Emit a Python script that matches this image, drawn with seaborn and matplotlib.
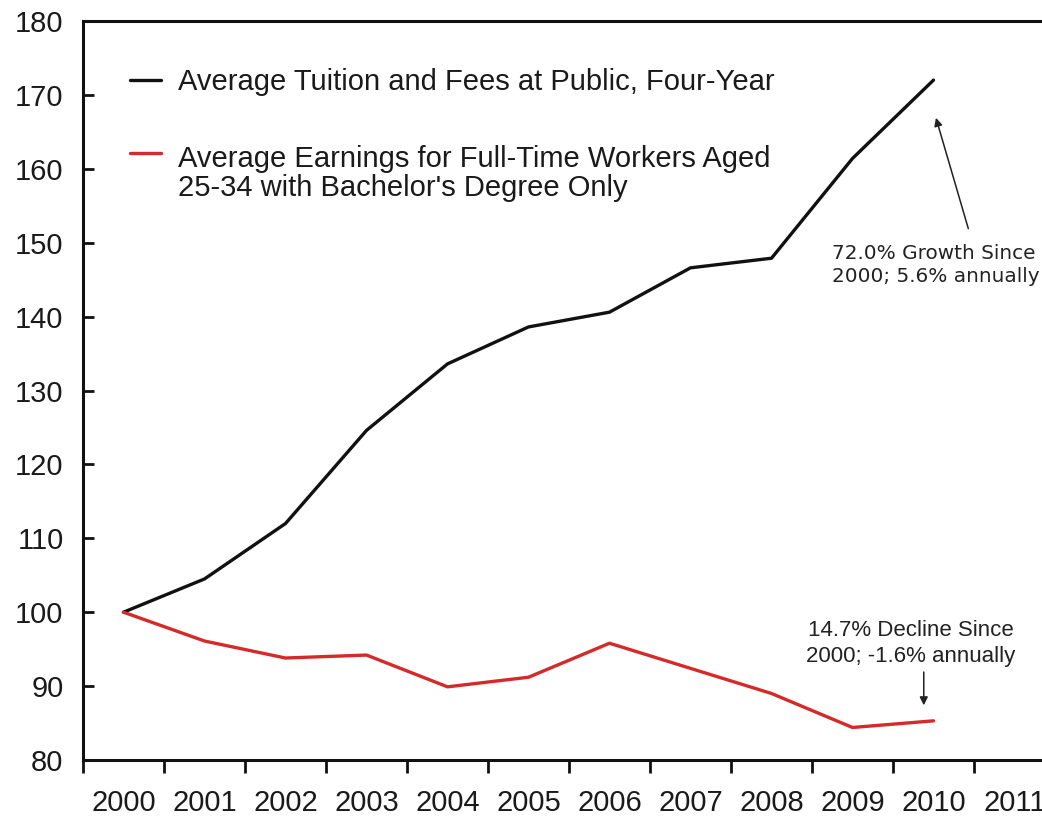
import matplotlib
matplotlib.use("Agg")
import matplotlib.pyplot as plt
from matplotlib.legend_handler import HandlerLine2D
import seaborn as sns
import pandas as pd
import numpy as np

years = [2000, 2001, 2002, 2003, 2004, 2005, 2006, 2007, 2008, 2009, 2010]
tuition = [100, 104.5, 112.0, 124.6, 133.6, 138.6, 140.6, 146.6, 147.9, 161.4, 172.0]
earnings = [100, 96.1, 93.8, 94.2, 89.9, 91.2, 95.8, 92.4, 89.0, 84.4, 85.3]
tick_years = [2000, 2001, 2002, 2003, 2004, 2005, 2006, 2007, 2008, 2009, 2010, 2011]
y_ticks = [80, 90, 100, 110, 120, 130, 140, 150, 160, 170, 180]

label_t = "Average Tuition and Fees at Public, Four-Year"
label_e = "Average Earnings for Full-Time Workers Aged\n25-34 with Bachelor's Degree Only"

df = pd.DataFrame({
    "year": years * 2,
    "value": tuition + earnings,
    "series": [label_t] * len(years) + [label_e] * len(years),
})

sns.set_theme(style="white")
plt.rcParams['font.family'] = ['Liberation Sans', 'DejaVu Sans']

fig = plt.figure(figsize=(10.42, 8.19), dpi=100)
ax = fig.add_axes([83/1042, 1 - 760/819, 1 - 83/1042, (760 - 21)/819])

sns.lineplot(data=df, x="year", y="value", hue="series",
             palette={label_t: "#111111", label_e: "#d42a2a"},
             linewidth=2.4, ax=ax, legend=True)

ax.set_xlim(1999.5, 1999.5 + (1042 - 83) / 81)
ax.set_ylim(80, 180)
ax.set_xlabel("")
ax.set_ylabel("")

ax.set_xticks(tick_years)
ax.set_xticklabels([str(y) for y in tick_years])
ax.set_xticks([y + 0.5 for y in tick_years[:-1]] + [1999.5], minor=True)
ax.tick_params(axis="x", which="major", length=0, pad=21, labelsize=21, labelcolor="#1a1a1a")
ax.tick_params(axis="x", which="minor", length=9, width=2, direction="out", color="#111111", bottom=True)
ax.set_yticks(y_ticks)
ax.tick_params(axis="y", which="major", length=8, width=2, direction="in", color="#111111",
               labelsize=21, labelcolor="#1a1a1a", pad=14, left=True)

for s in ["left", "bottom", "top"]:
    ax.spines[s].set_visible(True)
    ax.spines[s].set_color("#111111")
    ax.spines[s].set_linewidth(2.2)
ax.spines["right"].set_visible(False)
ax.grid(False)


class UpHandler(HandlerLine2D):
    def __init__(self, shift, **kw):
        super().__init__(**kw)
        self.shift = shift

    def create_artists(self, legend, orig_handle, xdescent, ydescent, width, height,
                       fontsize, trans):
        arts = super().create_artists(legend, orig_handle, xdescent, ydescent, width,
                                      height, fontsize, trans)
        for a in arts:
            yd = np.asarray(a.get_ydata(), dtype=float)
            a.set_ydata(yd + self.shift)
        return arts


handles, labels = ax.get_legend_handles_labels()
hmap = {handles[1]: UpHandler(shift=15)}
leg = ax.legend(handles, labels, loc="upper left", bbox_to_anchor=(0.022, 0.972), frameon=False,
                fontsize=21, handlelength=1.05, handletextpad=0.6, labelspacing=1.67,
                handler_map=hmap)
for t in leg.get_texts():
    t.set_linespacing(1.05)
    t.set_color("#1a1a1a")
for line in leg.get_lines():
    line.set_linewidth(2.4)

# growth note
ax.text(2008.75, 149.8, "72.0% Growth Since\n2000; 5.6% annually", ha="left", va="top",
        fontsize=14.4, family="DejaVu Sans", color="#222222", linespacing=1.25)
ax.annotate("", xy=(2010.03, 166.9), xytext=(2010.43, 151.9),
            arrowprops=dict(arrowstyle="-|>", color="#222222", lw=1.1, mutation_scale=12,
                            shrinkA=0, shrinkB=0))

# decline note
ax.text(2009.72, 95.8, "14.7% Decline Since\n2000; -1.6% annually", ha="center", va="center",
        fontsize=16, color="#222222", linespacing=1.3)
ax.annotate("", xy=(2009.88, 87.4), xytext=(2009.88, 91.9),
            arrowprops=dict(arrowstyle="-|>", color="#222222", lw=1.1, mutation_scale=12,
                            shrinkA=0, shrinkB=0))

fig.savefig("out.png", dpi=100)
